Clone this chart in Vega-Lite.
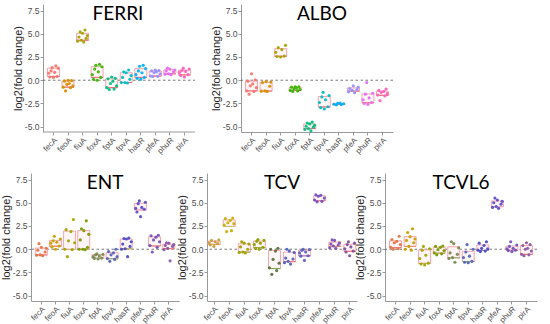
{
"$schema": "https://vega.github.io/schema/vega-lite/v6.json",
"padding": {"left": 0, "top": 4, "right": 0, "bottom": 0},
"config": {
 "font": "Liberation Sans",
 "view": {"stroke": null},
 "axis": {"grid": false, "domainColor": "#9a9a9a", "tickColor": "#9a9a9a", "tickSize": 3, "labelColor": "#4d4d4d", "labelFontSize": 8.5, "labelPadding": 1, "titleFontSize": 11, "titleFontWeight": "normal", "titleColor": "#222222", "titlePadding": 1},
 "axisX": {"labelAngle": -45, "title": null, "labelFontSize": 8},
 "axisY": {"labelExpr": "replace(datum.label, '\u2212', '-')"},
 "title": {"font": "Lato", "fontSize": 19, "fontWeight": "normal", "color": "#000000", "anchor": "middle", "offset": -20},
 "tick": {"opacity": 1}
},
"datasets": {"d": [
{"p":"FERRI","g":"fecA","r":5,"v":0.3},{"p":"FERRI","g":"fecA","r":2,"v":0.35},{"p":"FERRI","g":"fecA","r":8,"v":0.4},{"p":"FERRI","g":"fecA","r":1,"v":0.75},{"p":"FERRI","g":"fecA","r":6,"v":0.85},{"p":"FERRI","g":"fecA","r":3,"v":1.0},{"p":"FERRI","g":"fecA","r":9,"v":1.3},{"p":"FERRI","g":"fecA","r":4,"v":1.35},{"p":"FERRI","g":"fecA","r":7,"v":1.55},
{"p":"FERRI","g":"feoA","r":3,"v":-1.15},{"p":"FERRI","g":"feoA","r":7,"v":-0.8},{"p":"FERRI","g":"feoA","r":1,"v":-0.75},{"p":"FERRI","g":"feoA","r":9,"v":-0.6},{"p":"FERRI","g":"feoA","r":4,"v":-0.45},{"p":"FERRI","g":"feoA","r":6,"v":-0.35},{"p":"FERRI","g":"feoA","r":2,"v":-0.1},{"p":"FERRI","g":"feoA","r":8,"v":-0.05},{"p":"FERRI","g":"feoA","r":5,"v":0.0},
{"p":"FERRI","g":"fiuA","r":6,"v":4.1},{"p":"FERRI","g":"fiuA","r":1,"v":4.2},{"p":"FERRI","g":"fiuA","r":4,"v":4.3},{"p":"FERRI","g":"fiuA","r":8,"v":4.5},{"p":"FERRI","g":"fiuA","r":2,"v":4.65},{"p":"FERRI","g":"fiuA","r":9,"v":4.8},{"p":"FERRI","g":"fiuA","r":5,"v":5.05},{"p":"FERRI","g":"fiuA","r":3,"v":5.2},{"p":"FERRI","g":"fiuA","r":7,"v":5.4},
{"p":"FERRI","g":"foxA","r":5,"v":0.0},{"p":"FERRI","g":"foxA","r":2,"v":0.1},{"p":"FERRI","g":"foxA","r":8,"v":0.3},{"p":"FERRI","g":"foxA","r":1,"v":0.6},{"p":"FERRI","g":"foxA","r":6,"v":0.9},{"p":"FERRI","g":"foxA","r":3,"v":1.2},{"p":"FERRI","g":"foxA","r":9,"v":1.45},{"p":"FERRI","g":"foxA","r":4,"v":1.6},{"p":"FERRI","g":"foxA","r":7,"v":1.7},
{"p":"FERRI","g":"fptA","r":3,"v":-1.0},{"p":"FERRI","g":"fptA","r":7,"v":-0.95},{"p":"FERRI","g":"fptA","r":1,"v":-0.8},{"p":"FERRI","g":"fptA","r":9,"v":-0.6},{"p":"FERRI","g":"fptA","r":4,"v":-0.35},{"p":"FERRI","g":"fptA","r":6,"v":-0.1},{"p":"FERRI","g":"fptA","r":2,"v":0.15},{"p":"FERRI","g":"fptA","r":8,"v":0.2},{"p":"FERRI","g":"fptA","r":5,"v":0.35},
{"p":"FERRI","g":"fpvA","r":6,"v":-0.3},{"p":"FERRI","g":"fpvA","r":1,"v":-0.25},{"p":"FERRI","g":"fpvA","r":4,"v":-0.25},{"p":"FERRI","g":"fpvA","r":8,"v":0.1},{"p":"FERRI","g":"fpvA","r":2,"v":0.3},{"p":"FERRI","g":"fpvA","r":9,"v":0.5},{"p":"FERRI","g":"fpvA","r":5,"v":0.8},{"p":"FERRI","g":"fpvA","r":3,"v":0.9},{"p":"FERRI","g":"fpvA","r":7,"v":1.1},
{"p":"FERRI","g":"hasR","r":5,"v":0.1},{"p":"FERRI","g":"hasR","r":2,"v":0.2},{"p":"FERRI","g":"hasR","r":8,"v":0.3},{"p":"FERRI","g":"hasR","r":1,"v":0.6},{"p":"FERRI","g":"hasR","r":6,"v":0.8},{"p":"FERRI","g":"hasR","r":3,"v":1.0},{"p":"FERRI","g":"hasR","r":9,"v":1.25},{"p":"FERRI","g":"hasR","r":4,"v":1.5},{"p":"FERRI","g":"hasR","r":7,"v":1.6},
{"p":"FERRI","g":"pfeA","r":3,"v":0.4},{"p":"FERRI","g":"pfeA","r":7,"v":0.42},{"p":"FERRI","g":"pfeA","r":1,"v":0.45},{"p":"FERRI","g":"pfeA","r":9,"v":0.7},{"p":"FERRI","g":"pfeA","r":4,"v":0.8},{"p":"FERRI","g":"pfeA","r":6,"v":0.9},{"p":"FERRI","g":"pfeA","r":2,"v":1.0},{"p":"FERRI","g":"pfeA","r":8,"v":1.05},{"p":"FERRI","g":"pfeA","r":5,"v":1.1},
{"p":"FERRI","g":"phuR","r":6,"v":0.6},{"p":"FERRI","g":"phuR","r":1,"v":0.65},{"p":"FERRI","g":"phuR","r":4,"v":0.7},{"p":"FERRI","g":"phuR","r":8,"v":0.9},{"p":"FERRI","g":"phuR","r":2,"v":1.0},{"p":"FERRI","g":"phuR","r":9,"v":1.1},{"p":"FERRI","g":"phuR","r":5,"v":1.2},{"p":"FERRI","g":"phuR","r":3,"v":1.3},
{"p":"FERRI","g":"pirA","r":5,"v":0.35},{"p":"FERRI","g":"pirA","r":2,"v":0.5},{"p":"FERRI","g":"pirA","r":8,"v":0.6},{"p":"FERRI","g":"pirA","r":1,"v":0.85},{"p":"FERRI","g":"pirA","r":6,"v":0.95},{"p":"FERRI","g":"pirA","r":3,"v":1.05},{"p":"FERRI","g":"pirA","r":9,"v":1.2},{"p":"FERRI","g":"pirA","r":4,"v":1.3},
{"p":"ALBO","g":"fecA","r":3,"v":-1.5},{"p":"ALBO","g":"fecA","r":7,"v":-1.2},{"p":"ALBO","g":"fecA","r":1,"v":-1.15},{"p":"ALBO","g":"fecA","r":9,"v":-0.8},{"p":"ALBO","g":"fecA","r":4,"v":-0.6},{"p":"ALBO","g":"fecA","r":6,"v":-0.4},{"p":"ALBO","g":"fecA","r":2,"v":-0.1},{"p":"ALBO","g":"fecA","r":8,"v":0.05},{"p":"ALBO","g":"fecA","r":5,"v":0.7},
{"p":"ALBO","g":"feoA","r":6,"v":-1.2},{"p":"ALBO","g":"feoA","r":1,"v":-1.18},{"p":"ALBO","g":"feoA","r":4,"v":-1.15},{"p":"ALBO","g":"feoA","r":8,"v":-0.65},{"p":"ALBO","g":"feoA","r":2,"v":-0.25},{"p":"ALBO","g":"feoA","r":9,"v":-0.2},{"p":"ALBO","g":"feoA","r":5,"v":-0.15},
{"p":"ALBO","g":"fiuA","r":5,"v":2.5},{"p":"ALBO","g":"fiuA","r":2,"v":2.55},{"p":"ALBO","g":"fiuA","r":8,"v":2.6},{"p":"ALBO","g":"fiuA","r":1,"v":3.0},{"p":"ALBO","g":"fiuA","r":6,"v":3.3},{"p":"ALBO","g":"fiuA","r":3,"v":3.5},{"p":"ALBO","g":"fiuA","r":9,"v":3.75},
{"p":"ALBO","g":"foxA","r":3,"v":-1.2},{"p":"ALBO","g":"foxA","r":7,"v":-1.15},{"p":"ALBO","g":"foxA","r":1,"v":-1.1},{"p":"ALBO","g":"foxA","r":9,"v":-1.0},{"p":"ALBO","g":"foxA","r":4,"v":-0.93},{"p":"ALBO","g":"foxA","r":6,"v":-0.85},{"p":"ALBO","g":"foxA","r":2,"v":-0.75},{"p":"ALBO","g":"foxA","r":8,"v":-0.72},{"p":"ALBO","g":"foxA","r":5,"v":-0.7},
{"p":"ALBO","g":"fptA","r":6,"v":-5.45},{"p":"ALBO","g":"fptA","r":1,"v":-5.3},{"p":"ALBO","g":"fptA","r":4,"v":-5.2},{"p":"ALBO","g":"fptA","r":8,"v":-5.05},{"p":"ALBO","g":"fptA","r":2,"v":-4.95},{"p":"ALBO","g":"fptA","r":9,"v":-4.85},{"p":"ALBO","g":"fptA","r":5,"v":-4.7},{"p":"ALBO","g":"fptA","r":3,"v":-4.6},{"p":"ALBO","g":"fptA","r":7,"v":-4.5},
{"p":"ALBO","g":"fpvA","r":5,"v":-3.1},{"p":"ALBO","g":"fpvA","r":2,"v":-2.95},{"p":"ALBO","g":"fpvA","r":8,"v":-2.85},{"p":"ALBO","g":"fpvA","r":1,"v":-2.4},{"p":"ALBO","g":"fpvA","r":6,"v":-2.1},{"p":"ALBO","g":"fpvA","r":3,"v":-1.8},{"p":"ALBO","g":"fpvA","r":9,"v":-1.65},{"p":"ALBO","g":"fpvA","r":4,"v":-1.3},
{"p":"ALBO","g":"hasR","r":3,"v":-2.65},{"p":"ALBO","g":"hasR","r":7,"v":-2.62},{"p":"ALBO","g":"hasR","r":1,"v":-2.58},{"p":"ALBO","g":"hasR","r":9,"v":-2.53},{"p":"ALBO","g":"hasR","r":4,"v":-2.48},{"p":"ALBO","g":"hasR","r":6,"v":-2.45},
{"p":"ALBO","g":"pfeA","r":6,"v":-1.35},{"p":"ALBO","g":"pfeA","r":1,"v":-1.25},{"p":"ALBO","g":"pfeA","r":4,"v":-1.1},{"p":"ALBO","g":"pfeA","r":8,"v":-1.0},{"p":"ALBO","g":"pfeA","r":2,"v":-0.9},{"p":"ALBO","g":"pfeA","r":9,"v":-0.75},{"p":"ALBO","g":"pfeA","r":5,"v":-0.6},
{"p":"ALBO","g":"phuR","r":5,"v":-2.6},{"p":"ALBO","g":"phuR","r":2,"v":-2.5},{"p":"ALBO","g":"phuR","r":8,"v":-2.4},{"p":"ALBO","g":"phuR","r":1,"v":-2.1},{"p":"ALBO","g":"phuR","r":6,"v":-1.9},{"p":"ALBO","g":"phuR","r":3,"v":-1.5},{"p":"ALBO","g":"phuR","r":9,"v":-1.4},{"p":"ALBO","g":"phuR","r":4,"v":-0.25},
{"p":"ALBO","g":"pirA","r":3,"v":-2.2},{"p":"ALBO","g":"pirA","r":7,"v":-1.7},{"p":"ALBO","g":"pirA","r":1,"v":-1.6},{"p":"ALBO","g":"pirA","r":9,"v":-1.45},{"p":"ALBO","g":"pirA","r":4,"v":-1.3},{"p":"ALBO","g":"pirA","r":6,"v":-1.2},{"p":"ALBO","g":"pirA","r":2,"v":-1.1},{"p":"ALBO","g":"pirA","r":8,"v":-0.95},
{"p":"ENT","g":"fecA","r":6,"v":-0.7},{"p":"ENT","g":"fecA","r":1,"v":-0.65},{"p":"ENT","g":"fecA","r":4,"v":-0.6},{"p":"ENT","g":"fecA","r":8,"v":-0.3},{"p":"ENT","g":"fecA","r":2,"v":-0.1},{"p":"ENT","g":"fecA","r":9,"v":0.1},{"p":"ENT","g":"fecA","r":5,"v":0.2},{"p":"ENT","g":"fecA","r":3,"v":0.6},
{"p":"ENT","g":"feoA","r":5,"v":0.0},{"p":"ENT","g":"feoA","r":2,"v":0.25},{"p":"ENT","g":"feoA","r":8,"v":0.35},{"p":"ENT","g":"feoA","r":1,"v":0.65},{"p":"ENT","g":"feoA","r":6,"v":0.75},{"p":"ENT","g":"feoA","r":3,"v":0.9},{"p":"ENT","g":"feoA","r":9,"v":1.1},{"p":"ENT","g":"feoA","r":4,"v":1.4},
{"p":"ENT","g":"fiuA","r":3,"v":-0.8},{"p":"ENT","g":"fiuA","r":7,"v":-0.05},{"p":"ENT","g":"fiuA","r":1,"v":0.0},{"p":"ENT","g":"fiuA","r":9,"v":0.7},{"p":"ENT","g":"fiuA","r":4,"v":0.9},{"p":"ENT","g":"fiuA","r":6,"v":1.9},{"p":"ENT","g":"fiuA","r":2,"v":2.1},{"p":"ENT","g":"fiuA","r":8,"v":3.2},
{"p":"ENT","g":"foxA","r":6,"v":-0.05},{"p":"ENT","g":"foxA","r":1,"v":0.0},{"p":"ENT","g":"foxA","r":4,"v":0.0},{"p":"ENT","g":"foxA","r":8,"v":0.2},{"p":"ENT","g":"foxA","r":2,"v":1.0},{"p":"ENT","g":"foxA","r":9,"v":1.6},{"p":"ENT","g":"foxA","r":5,"v":2.0},{"p":"ENT","g":"foxA","r":3,"v":2.2},{"p":"ENT","g":"foxA","r":7,"v":3.05},
{"p":"ENT","g":"fptA","r":5,"v":-1.05},{"p":"ENT","g":"fptA","r":2,"v":-1.0},{"p":"ENT","g":"fptA","r":8,"v":-0.95},{"p":"ENT","g":"fptA","r":1,"v":-0.8},{"p":"ENT","g":"fptA","r":6,"v":-0.72},{"p":"ENT","g":"fptA","r":3,"v":-0.6},{"p":"ENT","g":"fptA","r":9,"v":-0.55},{"p":"ENT","g":"fptA","r":4,"v":-0.5},
{"p":"ENT","g":"fpvA","r":3,"v":-1.3},{"p":"ENT","g":"fpvA","r":7,"v":-1.1},{"p":"ENT","g":"fpvA","r":1,"v":-1.0},{"p":"ENT","g":"fpvA","r":9,"v":-0.8},{"p":"ENT","g":"fpvA","r":4,"v":-0.6},{"p":"ENT","g":"fpvA","r":6,"v":-0.4},{"p":"ENT","g":"fpvA","r":2,"v":-0.25},{"p":"ENT","g":"fpvA","r":8,"v":0.0},
{"p":"ENT","g":"hasR","r":6,"v":-0.8},{"p":"ENT","g":"hasR","r":1,"v":0.0},{"p":"ENT","g":"hasR","r":4,"v":0.05},{"p":"ENT","g":"hasR","r":8,"v":0.3},{"p":"ENT","g":"hasR","r":2,"v":0.55},{"p":"ENT","g":"hasR","r":9,"v":0.8},{"p":"ENT","g":"hasR","r":5,"v":1.1},{"p":"ENT","g":"hasR","r":3,"v":1.15},{"p":"ENT","g":"hasR","r":7,"v":1.2},
{"p":"ENT","g":"pfeA","r":5,"v":3.5},{"p":"ENT","g":"pfeA","r":2,"v":4.0},{"p":"ENT","g":"pfeA","r":8,"v":4.3},{"p":"ENT","g":"pfeA","r":1,"v":4.4},{"p":"ENT","g":"pfeA","r":6,"v":4.5},{"p":"ENT","g":"pfeA","r":3,"v":4.9},{"p":"ENT","g":"pfeA","r":9,"v":5.05},{"p":"ENT","g":"pfeA","r":4,"v":5.2},
{"p":"ENT","g":"phuR","r":3,"v":-0.3},{"p":"ENT","g":"phuR","r":7,"v":0.2},{"p":"ENT","g":"phuR","r":1,"v":0.4},{"p":"ENT","g":"phuR","r":9,"v":0.8},{"p":"ENT","g":"phuR","r":4,"v":1.0},{"p":"ENT","g":"phuR","r":6,"v":1.3},{"p":"ENT","g":"phuR","r":2,"v":1.45},{"p":"ENT","g":"phuR","r":8,"v":1.5},
{"p":"ENT","g":"pirA","r":6,"v":-1.25},{"p":"ENT","g":"pirA","r":1,"v":-0.05},{"p":"ENT","g":"pirA","r":4,"v":0.1},{"p":"ENT","g":"pirA","r":8,"v":0.3},{"p":"ENT","g":"pirA","r":2,"v":0.4},{"p":"ENT","g":"pirA","r":9,"v":0.5},{"p":"ENT","g":"pirA","r":5,"v":0.65},{"p":"ENT","g":"pirA","r":3,"v":0.7},
{"p":"TCV","g":"fecA","r":5,"v":0.3},{"p":"TCV","g":"fecA","r":2,"v":0.45},{"p":"TCV","g":"fecA","r":8,"v":0.6},{"p":"TCV","g":"fecA","r":1,"v":0.7},{"p":"TCV","g":"fecA","r":6,"v":0.8},{"p":"TCV","g":"fecA","r":3,"v":0.95},{"p":"TCV","g":"fecA","r":9,"v":1.0},
{"p":"TCV","g":"feoA","r":3,"v":1.9},{"p":"TCV","g":"feoA","r":7,"v":2.0},{"p":"TCV","g":"feoA","r":1,"v":2.6},{"p":"TCV","g":"feoA","r":9,"v":2.75},{"p":"TCV","g":"feoA","r":4,"v":2.85},{"p":"TCV","g":"feoA","r":6,"v":3.1},{"p":"TCV","g":"feoA","r":2,"v":3.3},{"p":"TCV","g":"feoA","r":8,"v":3.35},
{"p":"TCV","g":"fiuA","r":6,"v":-0.4},{"p":"TCV","g":"fiuA","r":1,"v":-0.35},{"p":"TCV","g":"fiuA","r":4,"v":-0.3},{"p":"TCV","g":"fiuA","r":8,"v":0.0},{"p":"TCV","g":"fiuA","r":2,"v":0.25},{"p":"TCV","g":"fiuA","r":9,"v":0.55},{"p":"TCV","g":"fiuA","r":5,"v":0.65},{"p":"TCV","g":"fiuA","r":3,"v":0.8},
{"p":"TCV","g":"foxA","r":5,"v":0.0},{"p":"TCV","g":"foxA","r":2,"v":0.1},{"p":"TCV","g":"foxA","r":8,"v":0.2},{"p":"TCV","g":"foxA","r":1,"v":0.5},{"p":"TCV","g":"foxA","r":6,"v":0.65},{"p":"TCV","g":"foxA","r":3,"v":0.85},{"p":"TCV","g":"foxA","r":9,"v":0.95},{"p":"TCV","g":"foxA","r":4,"v":1.05},
{"p":"TCV","g":"fptA","r":3,"v":-2.7},{"p":"TCV","g":"fptA","r":7,"v":-2.3},{"p":"TCV","g":"fptA","r":1,"v":-2.0},{"p":"TCV","g":"fptA","r":9,"v":-1.5},{"p":"TCV","g":"fptA","r":4,"v":-1.1},{"p":"TCV","g":"fptA","r":6,"v":-0.2},{"p":"TCV","g":"fptA","r":2,"v":0.0},{"p":"TCV","g":"fptA","r":8,"v":0.1},
{"p":"TCV","g":"fpvA","r":6,"v":-1.6},{"p":"TCV","g":"fpvA","r":1,"v":-1.45},{"p":"TCV","g":"fpvA","r":4,"v":-1.3},{"p":"TCV","g":"fpvA","r":8,"v":-1.05},{"p":"TCV","g":"fpvA","r":2,"v":-0.95},{"p":"TCV","g":"fpvA","r":9,"v":-0.35},{"p":"TCV","g":"fpvA","r":5,"v":-0.2},{"p":"TCV","g":"fpvA","r":3,"v":0.0},
{"p":"TCV","g":"hasR","r":5,"v":-1.2},{"p":"TCV","g":"hasR","r":2,"v":-0.75},{"p":"TCV","g":"hasR","r":8,"v":-0.7},{"p":"TCV","g":"hasR","r":1,"v":-0.4},{"p":"TCV","g":"hasR","r":6,"v":-0.3},{"p":"TCV","g":"hasR","r":3,"v":-0.12},{"p":"TCV","g":"hasR","r":9,"v":-0.05},{"p":"TCV","g":"hasR","r":4,"v":0.0},
{"p":"TCV","g":"pfeA","r":3,"v":5.1},{"p":"TCV","g":"pfeA","r":7,"v":5.15},{"p":"TCV","g":"pfeA","r":1,"v":5.3},{"p":"TCV","g":"pfeA","r":9,"v":5.5},{"p":"TCV","g":"pfeA","r":4,"v":5.7},{"p":"TCV","g":"pfeA","r":6,"v":5.8},{"p":"TCV","g":"pfeA","r":2,"v":5.85},
{"p":"TCV","g":"phuR","r":6,"v":0.1},{"p":"TCV","g":"phuR","r":1,"v":0.15},{"p":"TCV","g":"phuR","r":4,"v":0.35},{"p":"TCV","g":"phuR","r":8,"v":0.45},{"p":"TCV","g":"phuR","r":2,"v":0.55},{"p":"TCV","g":"phuR","r":9,"v":0.7},{"p":"TCV","g":"phuR","r":5,"v":0.95},{"p":"TCV","g":"phuR","r":3,"v":1.0},
{"p":"TCV","g":"pirA","r":5,"v":-0.7},{"p":"TCV","g":"pirA","r":2,"v":-0.3},{"p":"TCV","g":"pirA","r":8,"v":-0.2},{"p":"TCV","g":"pirA","r":1,"v":0.05},{"p":"TCV","g":"pirA","r":6,"v":0.25},{"p":"TCV","g":"pirA","r":3,"v":0.5},{"p":"TCV","g":"pirA","r":9,"v":0.65},{"p":"TCV","g":"pirA","r":4,"v":0.8},
{"p":"TCVL6","g":"fecA","r":3,"v":0.0},{"p":"TCVL6","g":"fecA","r":7,"v":0.05},{"p":"TCVL6","g":"fecA","r":1,"v":0.2},{"p":"TCVL6","g":"fecA","r":9,"v":0.5},{"p":"TCVL6","g":"fecA","r":4,"v":0.7},{"p":"TCVL6","g":"fecA","r":6,"v":0.85},{"p":"TCVL6","g":"fecA","r":2,"v":1.05},{"p":"TCVL6","g":"fecA","r":8,"v":1.4},
{"p":"TCVL6","g":"feoA","r":6,"v":-0.1},{"p":"TCVL6","g":"feoA","r":1,"v":0.0},{"p":"TCVL6","g":"feoA","r":4,"v":0.3},{"p":"TCVL6","g":"feoA","r":8,"v":0.7},{"p":"TCVL6","g":"feoA","r":2,"v":0.95},{"p":"TCVL6","g":"feoA","r":9,"v":1.1},{"p":"TCVL6","g":"feoA","r":5,"v":1.35},{"p":"TCVL6","g":"feoA","r":3,"v":1.8},{"p":"TCVL6","g":"feoA","r":7,"v":2.2},
{"p":"TCVL6","g":"fiuA","r":5,"v":-1.7},{"p":"TCVL6","g":"fiuA","r":2,"v":-1.6},{"p":"TCVL6","g":"fiuA","r":8,"v":-1.5},{"p":"TCVL6","g":"fiuA","r":1,"v":-1.0},{"p":"TCVL6","g":"fiuA","r":6,"v":-0.65},{"p":"TCVL6","g":"fiuA","r":3,"v":-0.1},{"p":"TCVL6","g":"fiuA","r":9,"v":0.05},{"p":"TCVL6","g":"fiuA","r":4,"v":0.3},
{"p":"TCVL6","g":"foxA","r":3,"v":-0.6},{"p":"TCVL6","g":"foxA","r":7,"v":-0.5},{"p":"TCVL6","g":"foxA","r":1,"v":-0.4},{"p":"TCVL6","g":"foxA","r":9,"v":-0.15},{"p":"TCVL6","g":"foxA","r":4,"v":-0.05},{"p":"TCVL6","g":"foxA","r":6,"v":0.2},{"p":"TCVL6","g":"foxA","r":2,"v":0.3},{"p":"TCVL6","g":"foxA","r":8,"v":0.35},
{"p":"TCVL6","g":"fptA","r":6,"v":-1.4},{"p":"TCVL6","g":"fptA","r":1,"v":-1.0},{"p":"TCVL6","g":"fptA","r":4,"v":-0.9},{"p":"TCVL6","g":"fptA","r":8,"v":-0.55},{"p":"TCVL6","g":"fptA","r":2,"v":-0.4},{"p":"TCVL6","g":"fptA","r":9,"v":0.15},{"p":"TCVL6","g":"fptA","r":5,"v":0.6},{"p":"TCVL6","g":"fptA","r":3,"v":0.8},
{"p":"TCVL6","g":"fpvA","r":5,"v":-1.45},{"p":"TCVL6","g":"fpvA","r":2,"v":-1.4},{"p":"TCVL6","g":"fpvA","r":8,"v":-1.3},{"p":"TCVL6","g":"fpvA","r":1,"v":-0.9},{"p":"TCVL6","g":"fpvA","r":6,"v":-0.75},{"p":"TCVL6","g":"fpvA","r":3,"v":-0.3},{"p":"TCVL6","g":"fpvA","r":9,"v":0.0},{"p":"TCVL6","g":"fpvA","r":4,"v":0.5},
{"p":"TCVL6","g":"hasR","r":3,"v":-0.25},{"p":"TCVL6","g":"hasR","r":7,"v":-0.2},{"p":"TCVL6","g":"hasR","r":1,"v":-0.1},{"p":"TCVL6","g":"hasR","r":9,"v":0.05},{"p":"TCVL6","g":"hasR","r":4,"v":0.1},{"p":"TCVL6","g":"hasR","r":6,"v":0.4},{"p":"TCVL6","g":"hasR","r":2,"v":0.65},{"p":"TCVL6","g":"hasR","r":8,"v":0.8},
{"p":"TCVL6","g":"pfeA","r":6,"v":4.4},{"p":"TCVL6","g":"pfeA","r":1,"v":4.5},{"p":"TCVL6","g":"pfeA","r":4,"v":4.6},{"p":"TCVL6","g":"pfeA","r":8,"v":4.85},{"p":"TCVL6","g":"pfeA","r":2,"v":5.0},{"p":"TCVL6","g":"pfeA","r":9,"v":5.15},{"p":"TCVL6","g":"pfeA","r":5,"v":5.3},{"p":"TCVL6","g":"pfeA","r":3,"v":5.5},
{"p":"TCVL6","g":"phuR","r":5,"v":-0.25},{"p":"TCVL6","g":"phuR","r":2,"v":-0.15},{"p":"TCVL6","g":"phuR","r":8,"v":-0.1},{"p":"TCVL6","g":"phuR","r":1,"v":0.05},{"p":"TCVL6","g":"phuR","r":6,"v":0.1},{"p":"TCVL6","g":"phuR","r":3,"v":0.3},{"p":"TCVL6","g":"phuR","r":9,"v":0.45},{"p":"TCVL6","g":"phuR","r":4,"v":0.8},
{"p":"TCVL6","g":"pirA","r":3,"v":-0.7},{"p":"TCVL6","g":"pirA","r":7,"v":-0.6},{"p":"TCVL6","g":"pirA","r":1,"v":-0.55},{"p":"TCVL6","g":"pirA","r":9,"v":-0.2},{"p":"TCVL6","g":"pirA","r":4,"v":0.0},{"p":"TCVL6","g":"pirA","r":6,"v":0.1},{"p":"TCVL6","g":"pirA","r":2,"v":0.4},{"p":"TCVL6","g":"pirA","r":8,"v":0.5},{"p":"TCVL6","g":"pirA","r":5,"v":0.7}
]},
"spacing": 17,
"vconcat": [
{"spacing": 14, "hconcat": [
 {"width": 164, "height": 128, "title": {"text": "FERRI", "dx": 5}, "data": {"name": "d"},
  "encoding": {"y": {"field": "v", "type": "quantitative", "scale": {"domain": [-5.57, 8.2], "nice": false, "zero": false}, "axis": {"values": [-5, -2.5, 0, 2.5, 5, 7.5], "format": ".1f", "title": "log2(fold change)", "offset": -12}}},
  "resolve": {"scale": {"color": "independent"}},
  "layer": [
   {"data": {"values": [{"v": -5.57}]}, "mark": {"type": "rule", "color": "#9a9a9a", "strokeWidth": 1},
    "encoding": {"x": {"datum": "fecA", "type": "nominal", "bandPosition": -0.458, "scale": {"paddingInner": 0.25, "paddingOuter": 0.761, "align": 0.768}, "axis": {"domain": false}}, "x2": {"datum": "pirA", "bandPosition": 1.471}}},
   {"data": {"values": [{"v": 0}]}, "mark": {"type": "rule", "strokeDash": [2.5, 2.5], "color": "#555555", "strokeWidth": 0.8},
    "encoding": {"x": {"datum": "fecA", "type": "nominal", "bandPosition": -0.458}, "x2": {"datum": "pirA", "bandPosition": 1.471}}},
   {"transform": [{"filter": "datum.p == 'FERRI'"}, {"aggregate": [{"op": "q1", "field": "v", "as": "v"}, {"op": "q3", "field": "v", "as": "hi"}], "groupby": ["g"]}],
    "mark": {"type": "bar", "size": 12, "strokeWidth": 0.9},
    "encoding": {"x": {"field": "g", "type": "nominal", "title": null, "axis": {"domain": false}}, "y2": {"field": "hi"},
     "stroke": {"field": "g", "type": "nominal", "legend": null, "scale": {"range": ["#F59BA3","#F59BA3","#F59BA3","#F59BA3","#F59BA3","#F59BA3","#F59BA3","#F59BA3","#F59BA3","#F59BA3"]}},
     "fill": {"field": "g", "type": "nominal", "legend": null, "scale": {"range": ["#FFF6F7","#FFF6F7","#FFF6F7","#FFF6F7","#FFF6F7","#FFF6F7","#FFF6F7","#FFF6F7","#FFF6F7","#FFF6F7"]}}}},
   {"transform": [{"filter": "datum.p == 'FERRI'"}, {"aggregate": [{"op": "median", "field": "v", "as": "v"}], "groupby": ["g"]}],
    "mark": {"type": "tick", "size": 12, "thickness": 1.1},
    "encoding": {"x": {"field": "g", "type": "nominal", "title": null},
     "color": {"field": "g", "type": "nominal", "legend": null, "scale": {"range": ["#F26D7D","#F26D7D","#F26D7D","#F26D7D","#F26D7D","#F26D7D","#F26D7D","#F26D7D","#F26D7D","#F26D7D"]}}}},
   {"transform": [{"filter": "datum.p == 'FERRI'"}],
    "mark": {"type": "circle", "size": 10, "opacity": 0.95},
    "encoding": {"x": {"field": "g", "type": "nominal", "title": null},
     "xOffset": {"field": "r", "type": "ordinal", "scale": {"domain": [1,2,3,4,5,6,7,8,9]}},
     "color": {"field": "g", "type": "nominal", "legend": null, "scale": {"range": ["#F8766D","#D89000","#A3A500","#39B600","#00BF7D","#00BFC4","#00B0F6","#9590FF","#E76BF3","#FF62BC"]}}}}
  ]},
 {"width": 152, "height": 128, "title": {"text": "ALBO", "dx": 5}, "data": {"name": "d"},
  "encoding": {"y": {"field": "v", "type": "quantitative", "scale": {"domain": [-5.57, 8.2], "nice": false, "zero": false}, "axis": {"values": [-5, -2.5, 0, 2.5, 5, 7.5], "format": ".1f", "title": "log2(fold change)"}}},
  "resolve": {"scale": {"color": "independent"}},
  "layer": [
   {"data": {"values": [{"v": 0}]}, "mark": {"type": "rule", "strokeDash": [2.5, 2.5], "color": "#555555", "strokeWidth": 0.8}, "encoding": {}},
   {"transform": [{"filter": "datum.p == 'ALBO'"}, {"aggregate": [{"op": "q1", "field": "v", "as": "v"}, {"op": "q3", "field": "v", "as": "hi"}], "groupby": ["g"]}],
    "mark": {"type": "bar", "size": 12, "strokeWidth": 0.9},
    "encoding": {"x": {"field": "g", "type": "nominal", "title": null, "scale": {"paddingInner": 0.25, "paddingOuter": 0.35}}, "y2": {"field": "hi"},
     "stroke": {"field": "g", "type": "nominal", "legend": null, "scale": {"range": ["#F59BA3","#F59BA3","#F59BA3","#F59BA3","#F59BA3","#F59BA3","#F59BA3","#F59BA3","#F59BA3","#F59BA3"]}},
     "fill": {"field": "g", "type": "nominal", "legend": null, "scale": {"range": ["#FFF6F7","#FFF6F7","#FFF6F7","#FFF6F7","#FFF6F7","#FFF6F7","#FFF6F7","#FFF6F7","#FFF6F7","#FFF6F7"]}}}},
   {"transform": [{"filter": "datum.p == 'ALBO'"}, {"aggregate": [{"op": "median", "field": "v", "as": "v"}], "groupby": ["g"]}],
    "mark": {"type": "tick", "size": 12, "thickness": 1.1},
    "encoding": {"x": {"field": "g", "type": "nominal", "title": null, "scale": {"paddingInner": 0.25, "paddingOuter": 0.35}},
     "color": {"field": "g", "type": "nominal", "legend": null, "scale": {"range": ["#F26D7D","#F26D7D","#F26D7D","#F26D7D","#F26D7D","#F26D7D","#F26D7D","#F26D7D","#F26D7D","#F26D7D"]}}}},
   {"transform": [{"filter": "datum.p == 'ALBO'"}],
    "mark": {"type": "circle", "size": 10, "opacity": 0.95},
    "encoding": {"x": {"field": "g", "type": "nominal", "title": null, "scale": {"paddingInner": 0.25, "paddingOuter": 0.35}},
     "xOffset": {"field": "r", "type": "ordinal", "scale": {"domain": [1,2,3,4,5,6,7,8,9]}},
     "color": {"field": "g", "type": "nominal", "legend": null, "scale": {"range": ["#F8766D","#D89000","#A3A500","#39B600","#00BF7D","#00BFC4","#00B0F6","#9590FF","#E76BF3","#FF62BC"]}}}}
  ]}
]},
{"spacing": -4, "hconcat": [
 {"width": 148, "height": 128, "title": {"text": "ENT"}, "data": {"name": "d"},
  "encoding": {"y": {"field": "v", "type": "quantitative", "scale": {"domain": [-5.57, 8.2], "nice": false, "zero": false}, "axis": {"values": [-5, -2.5, 0, 2.5, 5, 7.5], "format": ".1f", "title": "log2(fold change)"}}},
  "resolve": {"scale": {"color": "independent"}},
  "layer": [
   {"data": {"values": [{"v": 0}]}, "mark": {"type": "rule", "strokeDash": [2.5, 2.5], "color": "#555555", "strokeWidth": 0.8}, "encoding": {}},
   {"transform": [{"filter": "datum.p == 'ENT'"}, {"aggregate": [{"op": "q1", "field": "v", "as": "v"}, {"op": "q3", "field": "v", "as": "hi"}], "groupby": ["g"]}],
    "mark": {"type": "bar", "size": 12, "strokeWidth": 0.9},
    "encoding": {"x": {"field": "g", "type": "nominal", "title": null, "scale": {"paddingInner": 0.25, "paddingOuter": 0.35}}, "y2": {"field": "hi"},
     "stroke": {"field": "g", "type": "nominal", "legend": null, "scale": {"range": ["#F27A7A","#F0866A","#D8B088","#B8B070","#B0B898","#90B070","#B0B050","#F4A8B8","#F07878","#F07878"]}},
     "fill": {"field": "g", "type": "nominal", "legend": null, "scale": {"range": ["#FAD4DA","#FCE6E9","#FFFFFF","#FFFFFF","#FFFFFF","#FFFFFF","#FFFFFF","#FDE4EC","#FBDCE2","#FBDCE2"]}}}},
   {"transform": [{"filter": "datum.p == 'ENT'"}, {"aggregate": [{"op": "median", "field": "v", "as": "v"}], "groupby": ["g"]}],
    "mark": {"type": "tick", "size": 12, "thickness": 1.1},
    "encoding": {"x": {"field": "g", "type": "nominal", "title": null, "scale": {"paddingInner": 0.25, "paddingOuter": 0.35}},
     "color": {"field": "g", "type": "nominal", "legend": null, "scale": {"range": ["#F27A7A","#F0866A","#D8B088","#B8B070","#B0B898","#90B070","#B0B050","#F4A8B8","#F07878","#F07878"]}}}},
   {"transform": [{"filter": "datum.p == 'ENT'"}],
    "mark": {"type": "circle", "size": 10, "opacity": 0.95},
    "encoding": {"x": {"field": "g", "type": "nominal", "title": null, "scale": {"paddingInner": 0.25, "paddingOuter": 0.35}},
     "xOffset": {"field": "r", "type": "ordinal", "scale": {"domain": [1,2,3,4,5,6,7,8,9]}},
     "color": {"field": "g", "type": "nominal", "legend": null, "scale": {"range": ["#E0784A","#C9A000","#A3A500","#7A9A00","#7A8A50","#5566B8","#4C4CC4","#5A50C8","#7452B8","#8A5AA8"]}}}}
  ]},
 {"width": 150, "height": 128, "title": {"text": "TCV"}, "data": {"name": "d"},
  "encoding": {"y": {"field": "v", "type": "quantitative", "scale": {"domain": [-5.57, 8.2], "nice": false, "zero": false}, "axis": {"values": [-5, -2.5, 0, 2.5, 5, 7.5], "format": ".1f", "title": "log2(fold change)"}}},
  "resolve": {"scale": {"color": "independent"}},
  "layer": [
   {"data": {"values": [{"v": 0}]}, "mark": {"type": "rule", "strokeDash": [2.5, 2.5], "color": "#555555", "strokeWidth": 0.8}, "encoding": {}},
   {"transform": [{"filter": "datum.p == 'TCV'"}, {"aggregate": [{"op": "q1", "field": "v", "as": "v"}, {"op": "q3", "field": "v", "as": "hi"}], "groupby": ["g"]}],
    "mark": {"type": "bar", "size": 12, "strokeWidth": 0.9},
    "encoding": {"x": {"field": "g", "type": "nominal", "title": null, "scale": {"paddingInner": 0.25, "paddingOuter": 0.1}}, "y2": {"field": "hi"},
     "stroke": {"field": "g", "type": "nominal", "legend": null, "scale": {"range": ["#E8A060","#D0B878","#A8A848","#A0A848","#78A850","#F07070","#B070C0","#F08080","#F09070","#F07070"]}},
     "fill": {"field": "g", "type": "nominal", "legend": null, "scale": {"range": ["#FFF4EE","#FBE0E6","#FFFFFF","#FFFFFF","#FFFFFF","#FBE0E6","#F8ECF6","#FBE0E6","#FBE0E6","#FBE0E6"]}}}},
   {"transform": [{"filter": "datum.p == 'TCV'"}, {"aggregate": [{"op": "median", "field": "v", "as": "v"}], "groupby": ["g"]}],
    "mark": {"type": "tick", "size": 12, "thickness": 1.1},
    "encoding": {"x": {"field": "g", "type": "nominal", "title": null, "scale": {"paddingInner": 0.25, "paddingOuter": 0.1}},
     "color": {"field": "g", "type": "nominal", "legend": null, "scale": {"range": ["#E8A060","#D0B878","#A8A848","#A0A848","#78A850","#F07070","#B070C0","#F08080","#F09070","#F07070"]}}}},
   {"transform": [{"filter": "datum.p == 'TCV'"}],
    "mark": {"type": "circle", "size": 10, "opacity": 0.95},
    "encoding": {"x": {"field": "g", "type": "nominal", "title": null, "scale": {"paddingInner": 0.25, "paddingOuter": 0.1}},
     "xOffset": {"field": "r", "type": "ordinal", "scale": {"domain": [1,2,3,4,5,6,7,8,9]}},
     "color": {"field": "g", "type": "nominal", "legend": null, "scale": {"range": ["#C8A040","#C8B000","#A0A000","#90A000","#607040","#5060C0","#6060C0","#7050C0","#8050B0","#8050A0"]}}}}
  ]},
 {"width": 152, "height": 128, "title": {"text": "TCVL6"}, "data": {"name": "d"},
  "encoding": {"y": {"field": "v", "type": "quantitative", "scale": {"domain": [-5.57, 8.2], "nice": false, "zero": false}, "axis": {"values": [-5, -2.5, 0, 2.5, 5, 7.5], "format": ".1f", "title": "log2(fold change)"}}},
  "resolve": {"scale": {"color": "independent"}},
  "layer": [
   {"data": {"values": [{"v": 0}]}, "mark": {"type": "rule", "strokeDash": [2.5, 2.5], "color": "#555555", "strokeWidth": 0.8}, "encoding": {}},
   {"transform": [{"filter": "datum.p == 'TCVL6'"}, {"aggregate": [{"op": "q1", "field": "v", "as": "v"}, {"op": "q3", "field": "v", "as": "hi"}], "groupby": ["g"]}],
    "mark": {"type": "bar", "size": 12, "strokeWidth": 0.9},
    "encoding": {"x": {"field": "g", "type": "nominal", "title": null, "scale": {"paddingInner": 0.25, "paddingOuter": 0.35}}, "y2": {"field": "hi"},
     "stroke": {"field": "g", "type": "nominal", "legend": null, "scale": {"range": ["#F07070","#F09060","#C8A858","#A8A848","#88B068","#88B068","#8080D0","#F4A8B8","#F08090","#F07080"]}},
     "fill": {"field": "g", "type": "nominal", "legend": null, "scale": {"range": ["#FBE0E6","#FBE0E6","#FFFFFF","#FFFFFF","#FFFFFF","#FFFFFF","#FFFFFF","#FDE8EE","#FBE0E6","#FBE0E6"]}}}},
   {"transform": [{"filter": "datum.p == 'TCVL6'"}, {"aggregate": [{"op": "median", "field": "v", "as": "v"}], "groupby": ["g"]}],
    "mark": {"type": "tick", "size": 12, "thickness": 1.1},
    "encoding": {"x": {"field": "g", "type": "nominal", "title": null, "scale": {"paddingInner": 0.25, "paddingOuter": 0.35}},
     "color": {"field": "g", "type": "nominal", "legend": null, "scale": {"range": ["#F07070","#F09060","#C8A858","#A8A848","#88B068","#88B068","#8080D0","#F4A8B8","#F08090","#F07080"]}}}},
   {"transform": [{"filter": "datum.p == 'TCVL6'"}],
    "mark": {"type": "circle", "size": 10, "opacity": 0.95},
    "encoding": {"x": {"field": "g", "type": "nominal", "title": null, "scale": {"paddingInner": 0.25, "paddingOuter": 0.35}},
     "xOffset": {"field": "r", "type": "ordinal", "scale": {"domain": [1,2,3,4,5,6,7,8,9]}},
     "color": {"field": "g", "type": "nominal", "legend": null, "scale": {"range": ["#E0784A","#C9A000","#A3A500","#7A9A00","#7A8A50","#5566B8","#4C4CC4","#5A50C8","#7452B8","#8A5AA8"]}}}}
  ]}
]}
]
}
